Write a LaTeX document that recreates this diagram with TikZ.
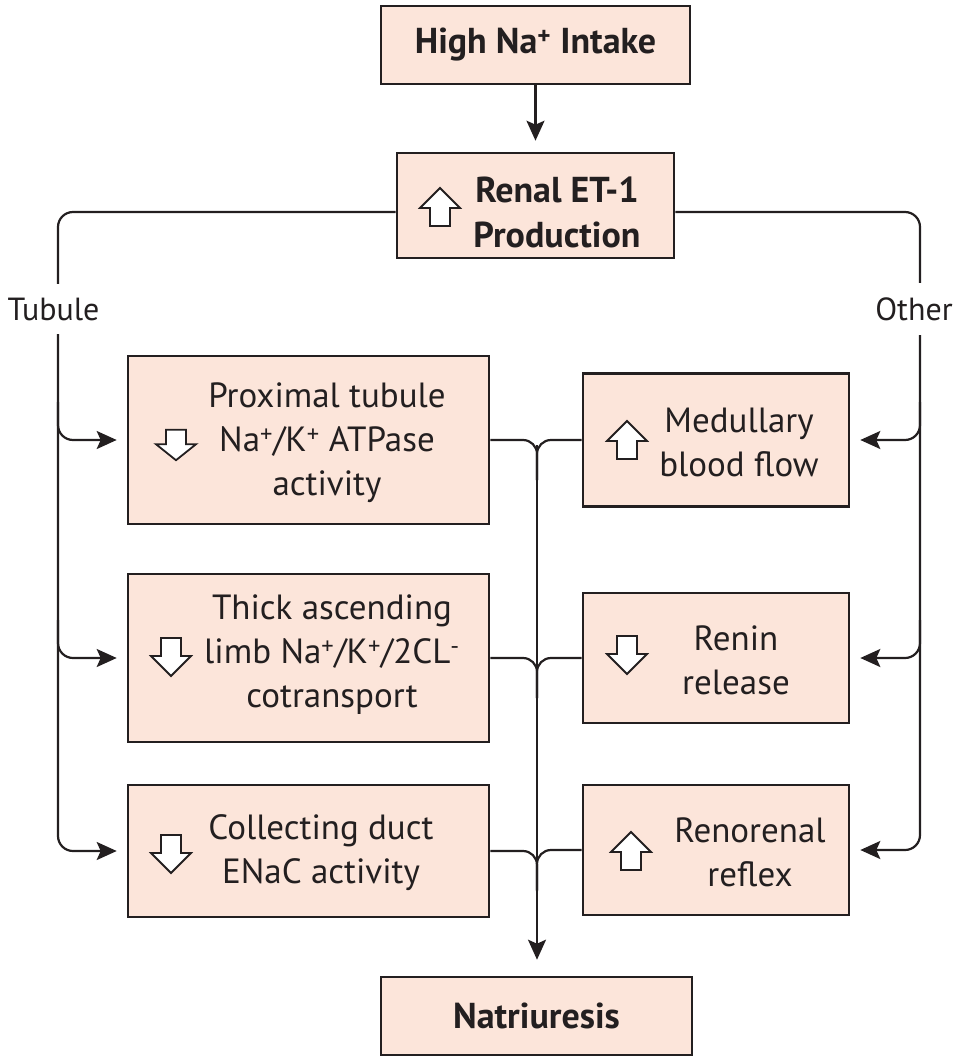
\documentclass[tikz,border=0pt]{standalone}
\usepackage{fontspec}
\setmainfont{PT Sans}
\usetikzlibrary{arrows.meta,positioning}
\definecolor{boxfill}{RGB}{252,229,218}
\definecolor{ink}{RGB}{35,31,32}

\begin{document}
\begin{tikzpicture}[x=1pt,y=-1pt,
  box/.style={draw=ink,line width=2.6pt,fill=boxfill,inner sep=0pt},
  txt/.style={align=center,text=ink,inner sep=0pt,font=\fontsize{35}{44}\selectfont},
  bold/.style={txt,font=\fontsize{36}{45}\selectfont\bfseries},
  lbl/.style={txt,font=\fontsize{32}{40}\selectfont,fill=white,inner ysep=14pt,inner xsep=2pt},
  conn/.style={draw=ink,line width=2.2pt},
  arr/.style={conn,-{Stealth[length=20pt,width=18pt,inset=4pt]}},
  uparr/.pic={\draw[ink,fill=white,line width=1.8pt,line join=miter]
    (0,-19) -- (20,1) -- (10,1) -- (10,19) -- (-10,19) -- (-10,1) -- (-20,1) -- cycle;},
  downarr/.pic={\draw[ink,fill=white,line width=1.8pt,line join=miter]
    (0,19) -- (20,-1) -- (10,-1) -- (10,-19) -- (-10,-19) -- (-10,-1) -- (-20,-1) -- cycle;}]
  \useasboundingbox (0,0) rectangle (960,1057);

  \node[box,bold,minimum width=309pt,minimum height=78pt] (intake) at (535.5,45) {High Na\textsuperscript{+} Intake};
  \node[box,minimum width=277pt,minimum height=105pt] (renal) at (535.5,205.5) {};
  \pic (renalup) at (440,207) {uparr};
  \node[bold] (renaltxt) at (557,212) {Renal ET-1\\Production};

  \node[box,minimum width=361pt,minimum height=168pt] (prox) at (308.5,440) {};
  \pic[yscale=0.8] (proxdn) at (176,445) {downarr};
  \node[txt] (proxtxt) at (327,443) {Proximal tubule\\Na\textsuperscript{+}/K\textsuperscript{+} ATPase\\activity};

  \node[box,minimum width=361pt,minimum height=168pt] (tal) at (308.5,658) {};
  \pic (taldn) at (171,657) {downarr};
  \node[txt] (taltxt) at (332,655) {Thick ascending\\limb Na\textsuperscript{+}/K\textsuperscript{+}/2CL\textsuperscript{-}\\cotransport};

  \node[box,minimum width=361pt,minimum height=132pt] (cd) at (308.5,851) {};
  \pic (cddn) at (171,854) {downarr};
  \node[txt] (cdtxt) at (321,853) {Collecting duct\\ENaC activity};

  \node[box,minimum width=266pt,minimum height=133pt] (med) at (716,440) {};
  \pic (medup) at (627,440) {uparr};
  \node[txt] (medtxt) at (739,442) {Medullary\\blood flow};

  \node[box,minimum width=266pt,minimum height=130pt] (renin) at (716,658) {};
  \pic (renindn) at (627,655) {downarr};
  \node[txt] (renintxt) at (736,660) {Renin\\release};

  \node[box,minimum width=266pt,minimum height=130pt] (reflex) at (716,850) {};
  \pic (reflexup) at (631,851) {uparr};
  \node[txt] (reflextxt) at (750,852) {Renorenal\\reflex};

  \node[box,bold,minimum width=311pt,minimum height=78pt] (natri) at (536.5,1016) {Natriuresis};

  \coordinate (tubx) at (58,310);
  \coordinate (othx) at (920,310);
  \coordinate (trunk) at (537,445);

  \draw[arr,shorten >=11pt] (intake) -- (renal);

  \draw[arr,rounded corners=15pt] ([yshift=-6.5pt]renal.west) -| (tubx |- cd.west) -- ([xshift=-10pt]cd.west);
  \draw[arr,rounded corners=15pt] ([yshift=38pt]tubx |- prox.west) |- ([xshift=-10pt]prox.west);
  \draw[arr,rounded corners=15pt] ([yshift=38pt]tubx |- tal.west) |- ([xshift=-10pt]tal.west);

  \draw[arr,rounded corners=15pt] ([yshift=-6.5pt]renal.east) -| (othx |- reflex.east) -- ([xshift=10pt]reflex.east);
  \draw[arr,rounded corners=15pt] ([yshift=38pt]othx |- med.east) |- ([xshift=10pt]med.east);
  \draw[arr,rounded corners=15pt] ([yshift=38pt]othx |- renin.east) |- ([xshift=10pt]renin.east);

  \draw[conn,rounded corners=14pt] (prox.east) -| ([yshift=-40pt]trunk |- prox.east);
  \draw[conn,rounded corners=14pt] (med.west) -| ([yshift=-40pt]trunk |- med.west);
  \draw[conn,rounded corners=14pt] (tal.east) -| ([yshift=-40pt]trunk |- tal.east);
  \draw[conn,rounded corners=14pt] (renin.west) -| ([yshift=-40pt]trunk |- renin.west);
  \draw[conn,rounded corners=14pt] (cd.east) -| ([yshift=-40pt]trunk |- cd.east);
  \draw[conn,rounded corners=14pt] (reflex.west) -| ([yshift=-40pt]trunk |- reflex.west);
  \draw[arr,shorten >=16pt] (trunk) -- (trunk |- natri.north);

  \node[lbl] (tubl) at (53.5,309) {Tubule};
  \node[lbl] (othl) at (914,309) {Other};
\end{tikzpicture}
\end{document}
